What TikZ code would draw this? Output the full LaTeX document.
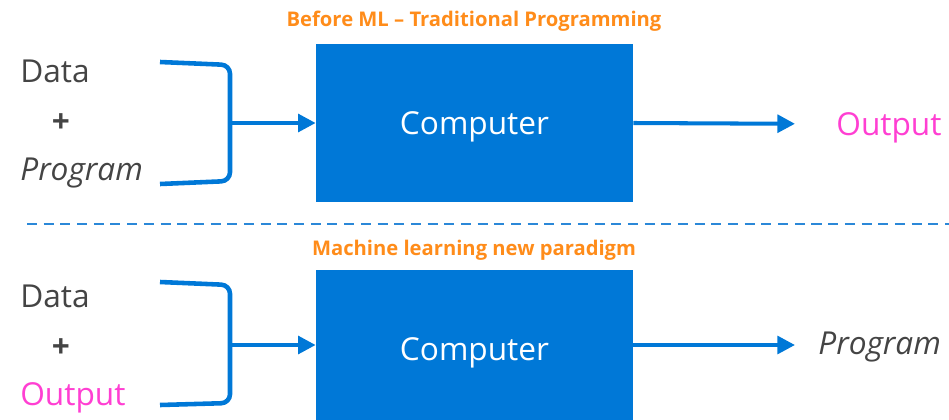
\documentclass[tikz,border=0pt]{standalone}
\usepackage{fontspec}
\setmainfont{Open Sans}
\usepackage{xcolor}
\usepackage{tikz}
\usetikzlibrary{arrows.meta, positioning, calc}

\definecolor{winblue}{HTML}{0078D7}
\definecolor{dashblue}{HTML}{2B88D8}
\definecolor{titleorange}{HTML}{FF8C1A}
\definecolor{outmagenta}{HTML}{FF3FD2}
\definecolor{txtgray}{HTML}{444444}

\tikzset{
  computer/.style   = {rectangle, fill=winblue, minimum width=6.34cm,
                       minimum height=3.16cm, align=center, text=white,
                       text depth=0pt, font=\fontsize{18}{20}\selectfont},
  title/.style      = {font=\fontsize{11.5}{13}\selectfont\bfseries, text=titleorange},
  label/.style      = {anchor=west, inner sep=0pt, text=txtgray, text depth=0pt,
                       font=\fontsize{18}{20}\selectfont},
  result/.style     = {label, text=outmagenta},
  plus/.style       = {inner sep=0pt, text=txtgray,
                       font=\fontsize{18}{20}\selectfont\bfseries},
  brace/.style      = {line width=2.6pt, winblue, rounded corners=5pt},
  arrow/.style      = {-{Triangle[length=10pt, width=10pt]}, line width=2.3pt, winblue},
  divider/.style    = {dashblue, line width=1.2pt, dash pattern=on 5.7pt off 3.8pt},
}

\begin{document}
\begin{tikzpicture}[x=0.02cm, y=-0.02cm]
  \useasboundingbox (0,0) rectangle (949,419);
  \clip (0,0) rectangle (949,419);

  % Traditional programming
  \node[title] (t1) at (474,21) {Before ML \textendash{} Traditional Programming};
  \node[computer] (c1) at (474.5,123) {Computer};

  \node[label] (d1) at (20,71) {Data};
  \node[plus] (p1) at (61,123) {+};
  \node[label] (g1) at (20,169) {\itshape Program};

  \coordinate (j1) at (230,123);
  \draw[brace] (160,62) -- (230,65) -- (230,181) -- (160,184);
  \draw[arrow] (j1) -- (c1.west);

  \node[result] (o1) at (836,124) {Output};
  \draw[arrow, shorten >=0.82cm] (c1.east) -- (o1.west);

  % separator
  \coordinate (sl) at (27,224);
  \coordinate (sr) at (949,224);
  \draw[divider] (sl) -- (sr);

  % Machine learning
  \node[title] (t2) at (474,250) {Machine learning new paradigm};
  \node[computer] (c2) at (474.5,349) {Computer};

  \node[label] (d2) at (20,296) {Data};
  \node[plus] (p2) at (61,348) {+};
  \node[result] (o2) at (20,394) {Output};

  \coordinate (j2) at (230,345);
  \draw[brace] (160,282) -- (230,285) -- (230,403) -- (160,405);
  \draw[arrow] (j2) -- (j2 -| c2.west);

  \node[label] (g2) at (818,343) {\itshape Program};
  \draw[arrow, shorten >=0.46cm] (j2 -| c2.east) -- (j2 -| g2.west);

\end{tikzpicture}
\end{document}
